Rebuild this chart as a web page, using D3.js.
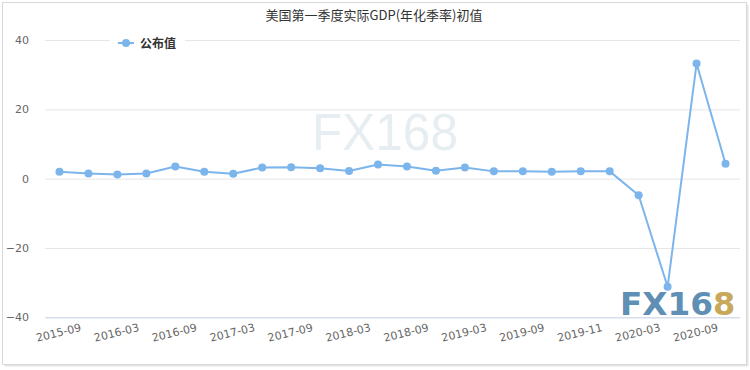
<!DOCTYPE html>
<html>
<head>
<meta charset="utf-8">
<script src="https://cdn.jsdelivr.net/npm/d3@7"></script>
<style>
html,body{margin:0;padding:0;background:#fff;}
svg{display:block;}
</style>
</head>
<body>
<svg id="chart" width="750" height="370"></svg>
<script>
const title = "美国第一季度实际GDP(年化季率)初值";
const seriesName = "公布值";
const categories = ["2015-09","2015-12","2016-03","2016-06","2016-09","2016-12","2017-03","2017-06","2017-09","2017-12","2018-03","2018-06","2018-09","2018-12","2019-03","2019-06","2019-09","2019-10","2019-11","2020-01","2020-03","2020-06","2020-09","2020-12"];
const values = [2.0, 1.5, 1.2, 1.5, 3.5, 2.0, 1.4, 3.2, 3.3, 3.0, 2.2, 4.1, 3.5, 2.3, 3.2, 2.1, 2.1, 2.0, 2.1, 2.1, -4.8, -31.2, 33.2, 4.3];
const yTicks = [-40, -20, 0, 20, 40];
const xTickLabels = ["2015-09","2016-03","2016-09","2017-03","2017-09","2018-03","2018-09","2019-03","2019-09","2019-11","2020-03","2020-09"];

(function () {
const svg = d3.select("#chart");
const pLeft = 45, pRight = 740, pTop = 40, pBottom = 317.3;

// frame with shadow
svg.append("rect").attr("x", 4.5).attr("y", 4.5).attr("width", 744).attr("height", 362).attr("fill", "#e4e4e4");
svg.append("rect").attr("x", 2.5).attr("y", 2.5).attr("width", 744).attr("height", 362).attr("fill", "#fff").attr("stroke", "#d8d8d8");

const x = d3.scaleBand().domain(categories).range([pLeft, pRight]).padding(0);
const y = d3.scaleLinear().domain([-40, 40]).range([pBottom, pTop]);
const cx = d => x(d) + x.bandwidth() / 2;

// watermark
svg.append("text").attr("x", 385).attr("y", 150).attr("text-anchor", "middle")
  .attr("font-family", "Liberation Sans, Arial, sans-serif").attr("font-size", 52)
  .attr("textLength", 146).attr("lengthAdjust", "spacingAndGlyphs")
  .attr("fill", "#e7eef2").text("FX168");

// gridlines
const yAxis = d3.axisLeft(y).tickValues(yTicks).tickSize(-(pRight - pLeft)).tickPadding(16);
const gy = svg.append("g").attr("transform", `translate(${pLeft},0)`).call(yAxis);
gy.select(".domain").remove();
gy.selectAll(".tick line").attr("stroke", "#e6e6e6");
gy.selectAll(".tick text").attr("fill", "#666").attr("font-family", "DejaVu Sans, Verdana, sans-serif").attr("font-size", 11).attr("x", -16);

// x axis line
const xAxis = d3.axisBottom(x).tickValues(xTickLabels).tickSize(0).tickPadding(0);
const gx = svg.append("g").attr("transform", `translate(0,${pBottom})`).call(xAxis);
gx.select(".domain").attr("stroke", "#ccd6eb");
gx.selectAll(".tick text")
  .attr("fill", "#666").attr("font-family", "DejaVu Sans, Verdana, sans-serif").attr("font-size", 11)
  .attr("text-anchor", "middle").attr("dy", null).attr("y", 0)
  .attr("transform", "translate(0,19) rotate(-14)");

// line
const line = d3.line().x((d, i) => cx(categories[i])).y(d => y(d));
svg.append("path").datum(values).attr("d", line).attr("fill", "none")
  .attr("stroke", "#7cb5ec").attr("stroke-width", 2).attr("stroke-linejoin", "round");
svg.selectAll("circle.pt").data(values).enter().append("circle").attr("class", "pt")
  .attr("cx", (d, i) => cx(categories[i])).attr("cy", d => y(d)).attr("r", 4).attr("fill", "#7cb5ec");

// logo bottom right
const logo = svg.append("text").attr("x", 620).attr("y", 315)
  .attr("font-family", "DejaVu Sans, sans-serif").attr("font-weight", "bold").attr("font-size", 32);
logo.append("tspan").attr("fill", "#5f8fb4").attr("textLength", 93).attr("lengthAdjust", "spacingAndGlyphs").text("FX16");
logo.append("tspan").attr("fill", "#c8a95c").text("8");

// title
svg.append("text").attr("x", 374).attr("y", 20).attr("text-anchor", "middle")
  .attr("font-family", "Noto Sans CJK SC, sans-serif").attr("font-size", 13).attr("fill", "#333").text(title);

// legend
svg.append("rect").attr("x", 110).attr("y", 32).attr("width", 75).attr("height", 20).attr("fill", "#fff");
svg.append("line").attr("x1", 118).attr("x2", 134).attr("y1", 43).attr("y2", 43).attr("stroke", "#7cb5ec").attr("stroke-width", 2);
svg.append("circle").attr("cx", 126).attr("cy", 43).attr("r", 4).attr("fill", "#7cb5ec");
svg.append("text").attr("x", 140).attr("y", 48)
  .attr("font-family", "Noto Sans CJK SC, sans-serif").attr("font-size", 12).attr("font-weight", "bold").attr("fill", "#333").text(seriesName);
})();
</script>
</body>
</html>
